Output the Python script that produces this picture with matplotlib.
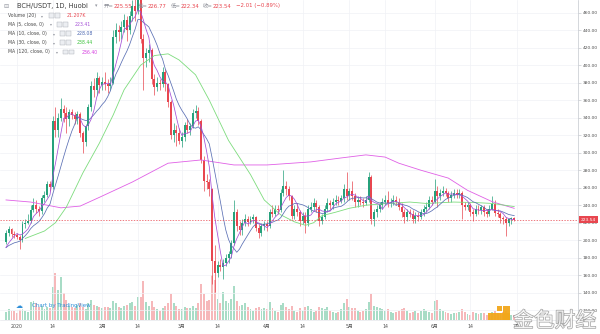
import numpy as np
import pandas as pd
import matplotlib
matplotlib.use("Agg")
import matplotlib.pyplot as plt
from matplotlib.patches import Rectangle, Circle
import matplotlib.patheffects as pe
import matplotlib.transforms as mtransforms

plt.rcParams['font.family'] = ['DejaVu Sans', 'Noto Sans CJK SC']

# BCH/USDT daily candles, Huobi, 2019-12-28 .. 2020-06-30
first_day = "2019-12-28"
opens = [
    198, 208, 213, 207,
    206, 204, 200, 218, 220, 222, 235, 240, 236, 233, 248, 252, 264, 261, 336, 326,
    340, 350, 345, 338, 346, 343, 338, 344, 322, 312, 330, 352, 376, 372, 385,
    377, 381, 378, 376, 380, 432, 440, 438, 444, 452, 440, 456, 468, 462, 490, 430,
    408, 414, 417, 384, 375, 380, 378, 392, 378, 358, 320, 326, 322,
    313, 318, 332, 326, 330, 345, 348, 336, 292, 268, 266, 258, 176, 162, 172, 169,
    174, 180, 184, 197, 232, 216, 212, 220, 224, 221, 224, 226, 214, 208, 216,
    218, 216, 232, 230, 236, 234, 254, 262, 258, 250, 228, 236, 232, 222, 228, 220,
    236, 238, 243, 238, 222, 226, 236, 242, 240, 244, 246, 245, 248, 258,
    250, 256, 250, 244, 246, 244, 242, 246, 272, 224, 232, 236, 240, 244, 246, 242,
    244, 246, 244, 238, 232, 226, 232, 230, 224, 228, 226, 232, 236, 238, 246,
    244, 256, 250, 254, 256, 254, 248, 252, 254, 252, 254, 240, 238, 240, 232, 230,
    236, 234, 238, 232, 230, 236, 241, 231, 230, 225.75, 224, 220, 223.96, 225.55,
]
highs = [
    212, 216, 214, 210,
    208, 206, 222, 224, 230, 240, 248, 246, 239, 252, 256, 268, 268, 342, 352, 345,
    362, 355, 352, 350, 350, 347, 348, 346, 325, 333, 356, 382, 385, 392, 388,
    386, 392, 384, 386, 440, 448, 446, 450, 458, 456, 462, 474, 482, 500, 495, 436,
    420, 424, 420, 390, 386, 384, 398, 396, 380, 360, 334, 332, 328,
    324, 335, 338, 334, 350, 355, 352, 338, 296, 276, 270, 260, 195, 176, 178, 178,
    184, 188, 200, 246, 236, 222, 224, 230, 228, 228, 230, 228, 218, 220, 222,
    222, 236, 240, 240, 240, 258, 280, 268, 262, 252, 240, 242, 234, 232, 232, 240,
    244, 248, 246, 240, 230, 240, 248, 246, 248, 252, 250, 252, 264, 278,
    260, 268, 254, 250, 250, 248, 250, 278, 274, 236, 240, 244, 248, 252, 256, 248,
    252, 250, 248, 242, 236, 236, 236, 234, 232, 232, 236, 240, 244, 250, 250,
    270, 262, 258, 262, 260, 256, 256, 258, 258, 258, 256, 244, 244, 242, 236, 240,
    240, 240, 240, 236, 240, 250, 246, 236, 232, 228, 226, 225, 227, 226.77,
]
lows = [
    196, 205, 204, 203,
    201, 190, 198, 214, 218, 220, 232, 231, 228, 230, 244, 249, 256, 259, 318, 318,
    336, 335, 322, 330, 338, 333, 333, 318, 300, 308, 326, 348, 364, 366, 368,
    372, 372, 368, 372, 378, 425, 428, 430, 438, 428, 436, 450, 450, 458, 425, 372,
    398, 404, 378, 366, 370, 372, 375, 370, 352, 316, 312, 308, 310,
    306, 313, 322, 320, 328, 340, 332, 288, 256, 258, 250, 150, 141, 158, 165, 156,
    170, 174, 180, 194, 210, 206, 206, 216, 216, 218, 220, 210, 202, 205, 212,
    210, 214, 226, 228, 230, 232, 250, 252, 246, 224, 224, 228, 216, 218, 208, 216,
    232, 234, 232, 216, 218, 224, 232, 236, 236, 240, 240, 242, 244, 246,
    246, 246, 238, 238, 240, 238, 240, 244, 218, 216, 226, 232, 236, 240, 238, 238,
    240, 240, 234, 226, 220, 222, 226, 220, 220, 222, 224, 228, 232, 236, 240,
    242, 238, 246, 250, 250, 244, 244, 248, 248, 248, 224, 234, 234, 228, 222, 228,
    230, 230, 228, 226, 228, 234, 228, 226, 220, 218, 205, 216, 219, 222.34,
]
closes = [
    208, 213, 207, 206,
    204, 200, 218, 220, 222, 235, 240, 236, 233, 248, 252, 264, 261, 336, 326, 340,
    350, 345, 338, 346, 343, 338, 344, 322, 312, 330, 352, 376, 372, 385, 377,
    381, 378, 376, 380, 432, 440, 438, 444, 452, 440, 456, 468, 462, 490, 430, 408,
    414, 417, 384, 375, 380, 378, 392, 378, 358, 320, 326, 322, 313,
    318, 332, 326, 330, 345, 348, 336, 292, 268, 266, 258, 176, 162, 172, 169, 174,
    180, 184, 197, 232, 216, 212, 220, 224, 221, 224, 226, 214, 208, 216, 218,
    216, 232, 230, 236, 234, 254, 262, 258, 250, 228, 236, 232, 222, 228, 220, 236,
    238, 243, 238, 222, 226, 236, 242, 240, 244, 246, 245, 248, 258, 250,
    256, 250, 244, 246, 244, 242, 246, 272, 224, 232, 236, 240, 244, 246, 242, 244,
    246, 244, 238, 232, 226, 232, 230, 224, 228, 226, 232, 236, 238, 246, 244,
    256, 250, 254, 256, 254, 248, 252, 254, 252, 254, 240, 238, 240, 232, 230, 236,
    234, 238, 232, 230, 236, 241, 231, 230, 225.75, 224, 220, 223.96, 225.55, 223.54,
]
# volume in thousands
volumes = [
    35, 45, 40, 38,
    30, 45, 70, 40, 35, 75, 80, 70, 55, 60, 45, 55, 50, 140, 200, 125,
    180, 115, 85, 60, 55, 50, 65, 70, 55, 45, 70, 85, 65, 60, 55,
    50, 55, 55, 50, 80, 70, 55, 50, 60, 65, 70, 75, 60, 95, 95, 165,
    75, 60, 80, 55, 45, 40, 50, 60, 70, 110, 70, 60, 45,
    45, 55, 50, 50, 60, 50, 70, 150, 110, 80, 85, 190, 170, 90, 70, 120,
    80, 70, 90, 145, 80, 60, 65, 70, 55, 45, 40, 50, 55, 45, 50,
    45, 75, 50, 40, 35, 65, 70, 55, 45, 60, 40, 35, 50, 40, 55, 60,
    45, 35, 40, 55, 50, 45, 55, 40, 35, 30, 35, 45, 70, 90,
    55, 50, 50, 40, 35, 40, 45, 75, 110, 60, 55, 50, 45, 40, 45, 35,
    30, 35, 40, 45, 50, 40, 30, 35, 40, 30, 40, 45, 40, 35, 30,
    80, 85, 45, 40, 35, 30, 25, 30, 30, 35, 45, 35, 25, 20, 35, 30,
    25, 30, 30, 20, 20, 35, 40, 30, 30, 35, 40, 25, 22, 21.207,
]
# closes of 2019-12-19 .. 12-27, only used to start the short MAs
warmup_closes = [189, 192, 190, 196, 189, 187, 188, 186, 190]

ma30_dates = ["2020-01-04", "2020-01-11", "2020-01-15", "2020-01-19", "2020-01-25",
              "2020-01-31", "2020-02-05", "2020-02-09", "2020-02-15", "2020-02-20",
              "2020-02-25", "2020-02-29", "2020-03-06", "2020-03-11", "2020-03-18",
              "2020-03-26", "2020-03-31", "2020-04-06", "2020-04-11", "2020-04-15",
              "2020-04-18", "2020-04-21", "2020-04-26", "2020-05-01", "2020-05-07",
              "2020-05-15", "2020-05-23", "2020-05-29", "2020-06-08", "2020-06-16",
              "2020-06-22", "2020-06-30"]
ma30_vals = [202, 210.5, 220, 238, 277, 311, 343, 372, 400, 411, 413, 406, 389, 360,
             314, 275, 246, 229, 221, 217, 220, 228, 232, 236.5, 240, 242, 243.6, 242,
             243.6, 243, 242, 238.44]
ma120_dates = ["2019-12-28", "2020-01-06", "2020-01-17", "2020-01-24", "2020-01-31",
               "2020-02-12", "2020-02-25", "2020-03-08", "2020-03-20", "2020-04-01",
               "2020-04-17", "2020-04-28", "2020-05-07", "2020-05-14", "2020-05-19",
               "2020-05-27", "2020-06-06", "2020-06-13", "2020-06-22", "2020-06-30"]
ma120_vals = [246, 243.6, 237, 239, 249, 266.5, 288, 291.7, 286, 286, 289.5, 294, 297.5,
              295, 288, 280, 271, 257, 244, 236.4]

tick_dates = ["2020-01-01", "2020-01-14", "2020-02-01", "2020-02-14", "2020-03-01",
              "2020-03-14", "2020-04-01", "2020-04-14", "2020-05-01", "2020-05-14",
              "2020-06-01", "2020-06-14", "2020-07-01"]
tick_labels = ["2020", "14", "2月", "14", "3月", "14", "4月", "14", "5月", "14",
               "6月", "14", "7月"]

UP = "#26a17b"
DOWN = "#e8464f"
UP_VOL = "#a8dcc6"
DOWN_VOL = "#f6b8ba"
MA_COLORS = {"ma5": "#a44fd6", "ma10": "#5a6fb4", "ma30": "#7ddc7d", "ma120": "#e060e6"}

base = pd.Timestamp("2020-01-01")


def day_num(d):
    return (pd.to_datetime(d) - base) / pd.Timedelta(days=1)


dates = pd.date_range(first_day, periods=len(closes))
x = np.asarray(day_num(dates))
o = np.array(opens, float)
h = np.array(highs, float)
l = np.array(lows, float)
c = np.array(closes, float)
v = np.array(volumes, float)
up = c >= o

all_close = pd.Series(warmup_closes + closes, dtype=float)
ma5 = all_close.rolling(5).mean().to_numpy()[len(warmup_closes):]
ma10 = all_close.rolling(10).mean().to_numpy()[len(warmup_closes):]

W, H = 600, 334
fig = plt.figure(figsize=(6, 3.34), dpi=100)
rect = [0, 14 / H, 578 / W, 320 / H]

vax = fig.add_axes(rect)
ax = fig.add_axes(rect, sharex=vax)
ax.patch.set_alpha(0)

# volume pane
vax.bar(x, v, width=0.7, color=np.where(up, UP_VOL, DOWN_VOL), linewidth=0)
vax.set_ylim(0, 1350)
vax.axis("off")

# grid
for yv in range(120, 461, 20):
    ax.axhline(yv, color="#f0f2f6", lw=0.5, zorder=0)
for td in tick_dates:
    ax.axvline(day_num(td), color="#f0f2f6", lw=0.5, zorder=0)

# candles
ax.vlines(x, l, h, colors=np.where(up, UP, DOWN), lw=0.5, zorder=2)
body = np.maximum(np.abs(c - o), 0.6)
ax.bar(x, body, bottom=np.minimum(o, c), width=0.72,
       color=np.where(up, UP, DOWN), linewidth=0, zorder=3)

# moving averages
ax.plot(day_num(ma120_dates), ma120_vals, color=MA_COLORS["ma120"], lw=0.6, zorder=4)
ax.plot(day_num(ma30_dates), ma30_vals, color=MA_COLORS["ma30"], lw=0.6, zorder=4)
ax.plot(x, ma10, color=MA_COLORS["ma10"], lw=0.55, zorder=4)
ax.plot(x, ma5, color=MA_COLORS["ma5"], lw=0.55, zorder=4)

# last price line
last = closes[-1]
ax.axhline(last, color=DOWN, lw=0.5, ls=(0, (2, 2)), zorder=5)
trans = mtransforms.blended_transform_factory(ax.transAxes, ax.transData)
ax.text(1.018, last, f"{last:.2f}", transform=trans, ha="center", va="center",
        fontsize=3.2, color="white", clip_on=False,
        bbox=dict(boxstyle="square,pad=0.35", fc=DOWN, ec="none"))

ax.set_xlim(-17 / 2.747, (578 - 17) / 2.747)
ax.set_ylim(460 - (320 - 12.7) / 0.875, 460 + 12.7 / 0.875)

ax.yaxis.tick_right()
ax.set_yticks(range(120, 461, 20))
ax.set_yticklabels([f"{t:.2f}" for t in range(120, 461, 20)])
ax.set_xticks([day_num(t) for t in tick_dates])
ax.set_xticklabels(tick_labels)
ax.tick_params(axis="y", length=2, width=0.4, color="#b8bbc2", labelsize=3.2,
               labelcolor="#505050", pad=1.5)
ax.tick_params(axis="x", length=0, labelsize=3.4, labelcolor="#505050", pad=3)
for side in ("top", "left"):
    ax.spines[side].set_visible(False)
ax.spines["right"].set_color("#c4c7ce")
ax.spines["right"].set_linewidth(0.5)
ax.spines["bottom"].set_color("#e6e8ec")
ax.spines["bottom"].set_linewidth(0.5)


def fx(px):
    return px / W


def fy(py):
    return 1 - py / H


# header line
fig.text(fx(3), fy(6), "⊟", fontsize=4.5, color="#9598a1", va="center")
fig.text(fx(17), fy(6), "BCH/USDT, 1D, Huobi", fontsize=4.8, color="#3c3c3c", va="center")
fig.text(fx(95), fy(6), "▾", fontsize=3.5, color="#9598a1", va="center")
for lab, px_lab, val in [("开=", 104, "225.55"), ("高=", 138, "226.77"),
                         ("低=", 171, "222.34"), ("收=", 203, "223.54")]:
    fig.text(fx(px_lab), fy(6), lab, fontsize=3.9, color="#8a8d96", va="center")
    fig.text(fx(px_lab + 10), fy(6), val, fontsize=3.9, color=DOWN, va="center")
fig.text(fx(236), fy(6), "−2.01 (−0.89%)", fontsize=3.9, color=DOWN, va="center")

# study legend
legend_rows = [
    ("Volume (20)", 15.7, 41, 49, 67, "21.207K", DOWN),
    ("MA (5, close, 0)", 24.3, 50, 57, 75, "223.41", MA_COLORS["ma5"]),
    ("MA (10, close, 0)", 33.6, 53, 60, 77, "228.08", "#4a66b0"),
    ("MA (30, close, 0)", 42.7, 53, 60, 77, "238.44", "#3ec23e"),
    ("MA (120, close, 0)", 52.0, 56, 63, 82, "236.40", "#d63ee0"),
]
for name, py, arrow_x, box_x, val_x, val, col in legend_rows:
    fig.text(fx(8), fy(py), name, fontsize=3.3, color="#4a4a4a", va="center")
    fig.text(fx(arrow_x), fy(py), "▾", fontsize=2.8, color="#9598a1", va="center")
    for bx in (box_x, box_x + 6):
        fig.add_artist(Rectangle((fx(bx), fy(py + 2.3)), 4.6 / W, 4.6 / H,
                                 transform=fig.transFigure, fc="#eceef2",
                                 ec="#a8abb3", lw=0.3))
    fig.text(fx(val_x), fy(py), val, fontsize=3.3, color=col, va="center")

# TradingView badge
fig.add_artist(Circle((fx(19), fy(306)), 7 / W, transform=fig.transFigure,
                      fc="white", ec="none", alpha=0.95))
fig.text(fx(19), fy(306), "☁", fontsize=5, color="#2f8fd8", ha="center", va="center")
fig.text(fx(32), fy(306), "Chart by TradingView", fontsize=4, color="#2f8fd8",
         va="center")

# 金色财经 watermark
for (rx, ry, rw, rh) in [(497, 306, 5, 5), (503, 306, 7, 14), (488, 313, 22, 7)]:
    fig.add_artist(Rectangle((fx(rx), fy(ry + rh)), rw / W, rh / H,
                             transform=fig.transFigure, fc="#f2a71b", ec="none",
                             alpha=0.95))
fig.text(fx(513), fy(321), "金色财经", fontsize=15, color="white", va="center",
         family=["Noto Sans CJK SC"], alpha=0.85,
         path_effects=[pe.withStroke(linewidth=0.9, foreground="#8d8d8d")])

fig.savefig("out.png", dpi=100)
